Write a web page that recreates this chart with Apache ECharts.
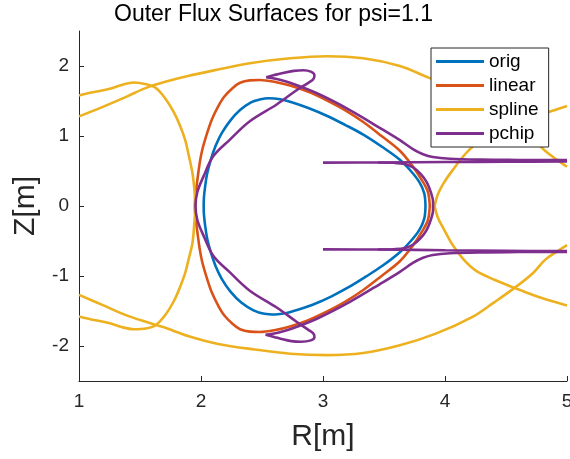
<!DOCTYPE html>
<html>
<head>
<meta charset="utf-8">
<script src="https://cdn.jsdelivr.net/npm/echarts@6/dist/echarts.min.js"></script>
<style>
  html, body { margin: 0; padding: 0; background: #fff; }
  #chart { width: 570px; height: 459px; }
</style>
</head>
<body>
<div id="chart"></div>
<script>
// Flux surface traces, [R, Z] pairs in metres
const origRZ = [
  [3.84,0],[3.83,0.18],[3.79,0.34],[3.72,0.5],[3.63,0.66],[3.48,0.85],[3.33,1.02],[3.18,1.16],
  [3.03,1.29],[2.88,1.40],[2.75,1.48],[2.65,1.525],[2.555,1.54],[2.48,1.52],[2.41,1.48],[2.32,1.37],
  [2.24,1.22],[2.17,1.04],[2.12,0.86],[2.08,0.66],[2.05,0.46],[2.034,0.28],[2.024,0.12],[2.022,0],
  [2.024,-0.12],[2.034,-0.28],[2.05,-0.46],[2.08,-0.66],[2.12,-0.86],[2.17,-1.04],[2.24,-1.22],
  [2.33,-1.38],[2.43,-1.49],[2.52,-1.54],[2.61,-1.55],[2.70,-1.53],[2.80,-1.48],[2.93,-1.40],
  [3.07,-1.29],[3.21,-1.16],[3.35,-1.01],[3.49,-0.85],[3.63,-0.66],[3.72,-0.5],[3.79,-0.34],
  [3.83,-0.18],[3.84,0]
];

const linearRZ = [
  [3.875,0],[3.86,0.2],[3.81,0.37],[3.73,0.58],[3.63,0.79],[3.48,1.0],[3.33,1.2],[3.18,1.37],
  [3.03,1.51],[2.88,1.63],[2.73,1.72],[2.6,1.775],[2.48,1.80],[2.40,1.795],[2.32,1.76],[2.26,1.685],
  [2.19,1.56],[2.14,1.42],[2.09,1.24],[2.05,1.04],[2.01,0.8],[1.99,0.62],[1.965,0.3],[1.952,0.1],[1.95,0],
  [1.952,-0.1],[1.965,-0.3],[1.99,-0.62],[2.01,-0.8],[2.05,-1.04],[2.09,-1.24],[2.14,-1.42],
  [2.19,-1.56],[2.26,-1.685],[2.32,-1.76],[2.40,-1.795],[2.48,-1.80],[2.6,-1.775],[2.73,-1.72],
  [2.88,-1.63],[3.03,-1.51],[3.18,-1.37],[3.33,-1.2],[3.48,-1.0],[3.63,-0.79],[3.73,-0.58],
  [3.81,-0.37],[3.86,-0.2],[3.875,0]
];

// spline contour pieces
const splineTopOuter = [
  [1.0,1.28],[1.2,1.42],[1.4,1.57],[1.54,1.68],[1.7,1.77],[1.9,1.86],[2.14,1.95],[2.4,2.04],
  [2.73,2.11],[3.03,2.14],[3.33,2.11],[3.63,2.0],[3.87,1.83],[4.05,1.71],[4.23,1.56],[4.4,1.37],
  [4.57,1.17],[4.72,0.96],[4.82,0.79],[4.91,0.67],[5.0,0.56]
];
const splineBotOuter = [
  [1.0,-1.27],[1.2,-1.42],[1.4,-1.57],[1.69,-1.73],[1.9,-1.86],[2.14,-1.97],[2.44,-2.05],
  [2.73,-2.11],[3.03,-2.13],[3.33,-2.10],[3.63,-1.99],[3.93,-1.82],[4.23,-1.58],[4.4,-1.38],
  [4.57,-1.17],[4.72,-0.96],[4.82,-0.77],[4.91,-0.66],[5.0,-0.56]
];
const splineLeftUp = [
  [1.0,1.58],[1.1,1.62],[1.245,1.67],[1.35,1.73],[1.45,1.765],[1.55,1.74],[1.63,1.685],
  [1.71,1.53],[1.78,1.33],[1.83,1.14],[1.87,0.945],[1.90,0.72],[1.93,0.47],[1.945,0.25],[1.955,0]
];
const splineLeftDown = [
  [1.955,0],[1.945,-0.25],[1.93,-0.53],[1.90,-0.75],[1.87,-0.96],[1.83,-1.15],[1.78,-1.35],
  [1.71,-1.55],[1.63,-1.70],[1.55,-1.75],[1.45,-1.76],[1.35,-1.73],[1.245,-1.67],[1.1,-1.62],[1.0,-1.58]
];
const splineRightUp = [
  [5.0,1.43],[4.88,1.36],[4.72,1.26],[4.57,1.17],[4.4,1.03],[4.25,0.88],[4.17,0.75],
  [4.07,0.53],[3.99,0.33],[3.94,0.16],[3.915,0]
];
const splineRightDown = [
  [3.915,0],[3.94,-0.16],[3.99,-0.33],[4.06,-0.55],[4.15,-0.76],[4.25,-0.92],[4.4,-1.05],
  [4.57,-1.17],[4.72,-1.27],[4.88,-1.36],[5.0,-1.42]
];

// pchip contour pieces
const pchipUpperArm = [
  [5.0,0.655],[4.6,0.658],[4.3,0.662],[4.04,0.675],[3.90,0.70],[3.82,0.74],[3.74,0.81],
  [3.63,0.94],[3.49,1.09],[3.22,1.37],[2.95,1.61],[2.73,1.76],[2.63,1.81],[2.535,1.84]
];
const pchipLoops = [
  [2.535,1.84],[2.6,1.87],[2.67,1.90],[2.76,1.93],[2.84,1.94],[2.90,1.92],[2.93,1.87],[2.92,1.81],
  [2.88,1.76],[2.78,1.65],[2.62,1.45],[2.40,1.21],[2.235,0.945],[2.10,0.71],[2.02,0.42],[1.97,0.2],
  [1.955,0],
  [1.97,-0.2],[2.02,-0.42],[2.10,-0.71],[2.235,-0.945],[2.40,-1.21],[2.62,-1.45],[2.78,-1.65],
  [2.88,-1.77],[2.92,-1.82],[2.93,-1.87],[2.90,-1.92],[2.82,-1.94],[2.74,-1.93],[2.66,-1.90],
  [2.6,-1.87],[2.53,-1.84]
];
const pchipLowerArm = [
  [2.53,-1.84],[2.63,-1.81],[2.73,-1.76],[2.95,-1.61],[3.22,-1.37],[3.49,-1.09],[3.63,-0.94],
  [3.74,-0.81],[3.82,-0.74],[3.90,-0.70],[4.04,-0.675],[4.3,-0.662],[4.6,-0.658],[5.0,-0.655]
];
const pchipUpperTail = [[3.0,0.62],[3.5,0.622],[4.0,0.628],[4.5,0.632],[5.0,0.635]];
const pchipLowerTail = [[3.0,-0.62],[3.5,-0.622],[4.0,-0.632],[4.5,-0.64],[5.0,-0.645]];
const pchipRightLobe = [
  [3.45,0.621],[3.58,0.617],[3.67,0.60],[3.74,0.55],[3.80,0.46],[3.85,0.34],[3.885,0.19],
  [3.902,0.06],[3.902,-0.06],[3.885,-0.19],[3.85,-0.34],[3.80,-0.46],[3.74,-0.55],[3.67,-0.60],
  [3.58,-0.617],[3.45,-0.622]
];

const legendNames = ['orig', 'linear', 'spline', 'pchip'];
const colors = { orig: '#0072BD', linear: '#D95319', spline: '#EDB120', pchip: '#7E2F8E' };
const xTicks = [1, 2, 3, 4, 5];
const yTicks = [-2, -1, 0, 1, 2];

const pieces = [
  ['orig', origRZ],
  ['linear', linearRZ],
  ['spline', splineTopOuter], ['spline', splineBotOuter],
  ['spline', splineLeftUp], ['spline', splineLeftDown],
  ['spline', splineRightUp], ['spline', splineRightDown],
  ['pchip', pchipUpperArm], ['pchip', pchipLoops], ['pchip', pchipLowerArm],
  ['pchip', pchipUpperTail], ['pchip', pchipLowerTail], ['pchip', pchipRightLobe]
];

const axisColor = '#262626';
const font = 'Liberation Sans, Arial, Helvetica, sans-serif';

const chart = echarts.init(document.getElementById('chart'), null, { renderer: 'canvas' });
chart.setOption({
  animation: false,
  backgroundColor: '#fff',
  title: {
    text: 'Outer Flux Surfaces for psi=1.1',
    left: 114, top: 3, padding: 0,
    textStyle: { fontFamily: font, fontSize: 23, fontWeight: 'normal', color: '#000' }
  },
  legend: {
    data: legendNames,
    orient: 'vertical',
    left: 431, top: 48,
    padding: [4, 10, 4, 5],
    itemGap: 5,
    itemWidth: 48, itemHeight: 3,
    icon: 'rect',
    backgroundColor: '#fff',
    borderColor: axisColor, borderWidth: 1, borderRadius: 0,
    textStyle: { fontFamily: font, fontSize: 19, color: '#000', padding: [0, 0, 0, 0] }
  },
  grid: { left: 79, right: 3, top: 31, bottom: 78, containLabel: false, outerBoundsMode: 'none' },
  xAxis: {
    type: 'value', min: 1, max: 5, interval: 1,
    name: 'R[m]', nameLocation: 'middle', nameGap: 41,
    nameTextStyle: { fontFamily: font, fontSize: 30, color: axisColor },
    axisLine: { show: true, onZero: false, lineStyle: { color: axisColor, width: 1 } },
    axisTick: { show: true, inside: true, length: 5, customValues: xTicks, lineStyle: { color: axisColor } },
    axisLabel: { fontFamily: font, fontSize: 19, color: axisColor, margin: 11, customValues: xTicks },
    splitLine: { show: false }
  },
  yAxis: {
    type: 'value', min: -2.5, max: 2.5,
    name: 'Z[m]', nameLocation: 'middle', nameGap: 36,
    nameTextStyle: { fontFamily: font, fontSize: 30, color: axisColor },
    axisLine: { show: true, onZero: false, lineStyle: { color: axisColor, width: 1 } },
    axisTick: { show: true, inside: true, length: 5, customValues: yTicks, lineStyle: { color: axisColor } },
    axisLabel: { fontFamily: font, fontSize: 19, color: axisColor, margin: 10, customValues: yTicks },
    splitLine: { show: false }
  },
  series: pieces.map(([name, pts]) => ({
    name,
    type: 'line',
    data: pts,
    symbol: 'none',
    smooth: 0.35,
    clip: true,
    lineStyle: { color: colors[name], width: 2.6 },
    itemStyle: { color: colors[name] },
    emphasis: { disabled: true }
  }))
});
</script>
</body>
</html>
